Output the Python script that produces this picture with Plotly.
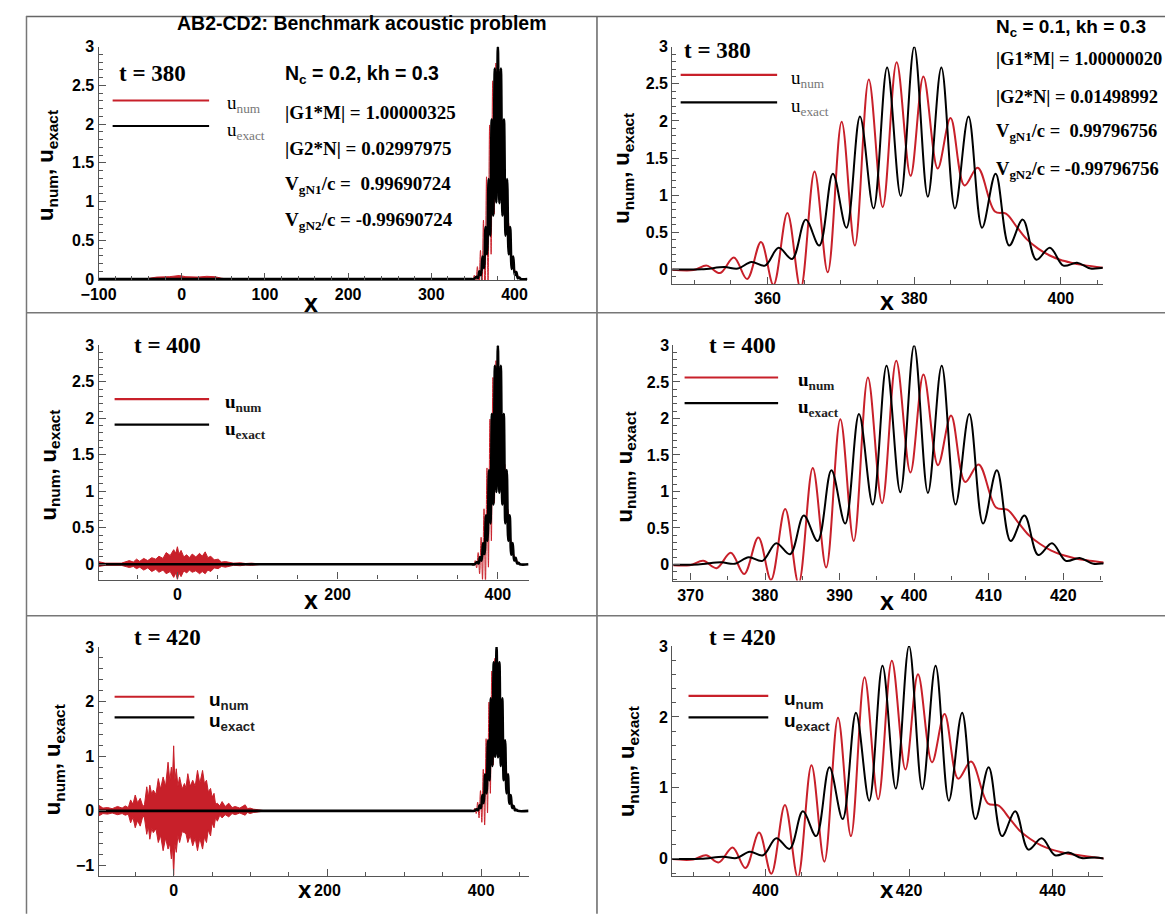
import plotly.graph_objects as go

W, H = 1173, 922          # window size
OFF = 8                   # default page margin of the html body
FW, FH = W - 2 * OFF, H - 2 * OFF

# ---------------- data ----------------
times = [380, 400, 420]          # packet centres (x = t, c = 1)

# exact solution, offset from packet centre
exact_dx = [-33.5, -29.0, -25.9, -24.05, -22.2, -20.35, -18.5, -16.65, -14.8, -12.95, -11.1,
            -9.25, -7.4, -5.55, -3.7, -1.85, 0.0, 1.85, 3.7, 5.55, 7.4, 9.25, 11.1, 12.95,
            14.8, 16.65, 18.5, 20.35, 22.2, 24.05, 25.9, 27.5]
exact_u = [0.0, 0.0, 0.03, 0.01, 0.10, 0.05, 0.29, 0.14, 0.67, 0.32, 1.29,
           0.56, 2.06, 0.82, 2.72, 0.99, 3.0, 0.98, 2.72, 0.82, 2.06, 0.56, 1.29, 0.32,
           0.67, 0.13, 0.29, 0.05, 0.09, 0.01, 0.02, 0.0]

# numerical solution, offset from packet centre
num_dx = [-33.5, -30.1, -28.3, -26.5, -24.6, -22.8, -20.9, -19.2, -17.3, -15.5, -13.6,
          -11.8, -9.9, -8.1, -6.2, -4.3, -2.4, -0.5, 1.25, 3.2, 4.95, 6.85, 8.65,
          11.0, 12.5, 14.0, 15.4, 16.9, 18.4, 19.9, 21.4, 22.9, 25.2, 27.5]
num_u = [0.0, -0.01, 0.05, -0.05, 0.16, -0.13, 0.37, -0.21, 0.76, -0.26, 1.32,
         -0.04, 1.99, 0.32, 2.56, 0.84, 2.79, 1.26, 2.60, 1.36, 2.04, 1.13, 1.37,
         0.78, 0.75, 0.57, 0.40, 0.28, 0.19, 0.13, 0.09, 0.06, 0.03, 0.0]

# spurious numerical wave near x = 0 (upper / lower envelope)
noise_x = {
    380: [-45, -40, -30, -15, -3, 5, 20, 30, 40, 48, 55],
    400: [-100, -98.5, -90, -79, -70, -60, -55, -51, -47, -42, -37, -32, -27, -23, -18,
          -14, -9, -4.6, -2, 0, 2, 4.6, 8, 11.6, 15, 18.5, 23, 27.7, 31, 34.7, 38, 41.6,
          46, 50.9, 55, 60, 70, 78.6, 85, 92.5, 106],
    420: [-100, -97, -92, -86, -80, -73, -67, -63, -59, -56, -53, -50, -47, -43.5, -40,
          -38, -35, -33, -31, -28.5, -26.5, -23, -20, -17, -13.7, -10.5, -7.3, -5, -3,
          -1.5, 0, 1.5, 3.4, 5.5, 7.7, 11, 14, 16, 18.4, 21.5, 24.8, 28, 31, 34, 37.6,
          40, 42.7, 45, 48, 50, 52.5, 54.5, 56.8, 60, 63, 67, 71.7, 76, 80, 86, 93, 96,
          99.4, 104, 110, 119],
}
noise_up = {
    380: [0.0, 0.01, 0.025, 0.03, 0.045, 0.03, 0.025, 0.035, 0.03, 0.01, 0.0],
    400: [0.03, 0.036, 0.015, 0.02, 0.015, 0.05, 0.03, 0.07, 0.04, 0.08, 0.05, 0.09, 0.07,
          0.11, 0.08, 0.16, 0.12, 0.20, 0.15, 0.24, 0.14, 0.19, 0.10, 0.13, 0.09, 0.14,
          0.10, 0.15, 0.11, 0.17, 0.09, 0.11, 0.06, 0.07, 0.03, 0.036, 0.015, 0.02, 0.01,
          0.015, 0.0],
    420: [0.09, 0.10, 0.05, 0.06, 0.04, 0.08, 0.05, 0.09, 0.06, 0.20, 0.12, 0.29, 0.15,
          0.23, 0.08, 0.11, 0.44, 0.25, 0.47, 0.30, 0.38, 0.30, 0.59, 0.40, 0.62, 0.45,
          0.89, 0.55, 0.80, 0.60, 1.19, 0.55, 0.77, 0.45, 0.62, 0.40, 0.50, 0.42, 0.68,
          0.45, 0.56, 0.45, 0.74, 0.50, 0.74, 0.50, 0.56, 0.35, 0.41, 0.25, 0.32, 0.12,
          0.14, 0.09, 0.17, 0.08, 0.14, 0.06, 0.08, 0.05, 0.11, 0.04, 0.05, 0.03, 0.02,
          0.0],
}
noise_lo = {
    380: [0.0, -0.01, -0.02, -0.025, -0.04, -0.03, -0.025, -0.03, -0.025, -0.01, 0.0],
    400: [-0.03, -0.03, -0.015, -0.02, -0.015, -0.045, -0.03, -0.06, -0.04, -0.08, -0.05,
          -0.10, -0.07, -0.11, -0.08, -0.13, -0.10, -0.18, -0.12, -0.21, -0.12, -0.17,
          -0.09, -0.12, -0.08, -0.11, -0.09, -0.13, -0.10, -0.13, -0.08, -0.10, -0.05,
          -0.06, -0.03, -0.04, -0.015, -0.02, -0.01, -0.015, 0.0],
    420: [-0.08, -0.09, -0.05, -0.06, -0.04, -0.07, -0.05, -0.08, -0.06, -0.22, -0.12,
          -0.31, -0.18, -0.28, -0.09, -0.13, -0.43, -0.28, -0.52, -0.32, -0.40, -0.33,
          -0.58, -0.45, -0.73, -0.50, -0.70, -0.60, -0.88, -0.65, -1.18, -0.60, -0.76,
          -0.45, -0.58, -0.38, -0.40, -0.42, -0.58, -0.45, -0.64, -0.50, -0.73, -0.50,
          -0.70, -0.48, -0.58, -0.35, -0.46, -0.22, -0.31, -0.12, -0.19, -0.08, -0.13,
          -0.07, -0.11, -0.05, -0.07, -0.04, -0.08, -0.03, -0.05, -0.03, -0.02, 0.0],
}

# axis ranges / ticks (left = full domain, right = zoom on packet)
left_xrange = {380: [-100, 415.6], 400: [-98.4, 438.3], 420: [-97.7, 461.6]}
left_yrange = {380: [-0.012, 3], 400: [-0.21, 3], 420: [-1.19, 3]}
left_xticks = {380: [-100, 0, 100, 200, 300, 400], 400: [0, 200, 400], 420: [0, 200, 400]}
right_xrange = {380: [347.0, 405.7], 400: [367.7, 425.4], 420: [387.0, 447.1]}
right_yrange = {380: [-0.2, 3], 400: [-0.22, 3], 420: [-0.24, 3]}
right_xticks = {380: [360, 380, 400], 400: [370, 380, 390, 400, 410, 420], 420: [400, 420, 440]}

stats_left = ["N<sub>c</sub> = 0.2, kh = 0.3", "|G1*M| = 1.00000325", "|G2*N| = 0.02997975",
              "V<sub>gN1</sub>/c =  0.99690724", "V<sub>gN2</sub>/c = -0.99690724"]
stats_right = ["N<sub>c</sub> = 0.1, kh = 0.3", "|G1*M| = 1.00000020", "|G2*N| = 0.01498992",
               "V<sub>gN1</sub>/c =  0.99796756", "V<sub>gN2</sub>/c = -0.99796756"]

RED = "#c8202a"
BLACK = "#000000"
AX = "#555555"

# panel boxes in window pixels: (x0, x1, ytop, ybottom)
boxes = {
    ("L", 380): (81.7, 517.4, 39.3, 276.7),
    ("L", 400): (81.7, 518.5, 343.3, 581.7),
    ("L", 420): (81.7, 518.5, 650.3, 883.3),
    ("R", 380): (664.5, 1101.7, 39.3, 281.0),
    ("R", 400): (665.6, 1102.5, 343.3, 582.7),
    ("R", 420): (664.5, 1102.5, 649.3, 883.3),
}

fig = go.Figure()
layout_axes = {}
annotations = []
shapes = []


def px(x):
    return (x - OFF) / FW


def py(y):
    return 1 - (y - OFF) / FH


def ann(text, x, y, size, family="Liberation Sans", bold=True, xanchor="center",
        yanchor="middle", angle=0, color="black"):
    annotations.append(dict(text=text, x=px(x), y=py(y), xref="paper", yref="paper",
                            showarrow=False, xanchor=xanchor, yanchor=yanchor,
                            textangle=angle,
                            font=dict(family=family, size=size, color=color,
                                      weight="bold" if bold else "normal")))


def hline(x0, x1, y, color, width):
    shapes.append(dict(type="line", xref="paper", yref="paper", x0=px(x0), x1=px(x1),
                       y0=py(y), y1=py(y), line=dict(color=color, width=width)))


def vline(x, y0, y1, color, width):
    shapes.append(dict(type="line", xref="paper", yref="paper", x0=px(x), x1=px(x),
                       y0=py(y0), y1=py(y1), line=dict(color=color, width=width)))


idx = 0
for side in ["L", "R"]:
    for t in times:
        idx += 1
        xa = "x" if idx == 1 else f"x{idx}"
        ya = "y" if idx == 1 else f"y{idx}"
        x0, x1, yt, yb = boxes[(side, t)]
        if side == "L":
            xr, yr, xt = left_xrange[t], left_yrange[t], left_xticks[t]
            xminor = 20 if t == 380 else 50
        else:
            xr, yr, xt = right_xrange[t], right_yrange[t], right_xticks[t]
            xminor = 5
        ydt = 1 if t == 420 else 0.5
        yminor = 0.2 if t == 420 else 0.1
        tickfont = dict(family="Liberation Sans", size=16, color="black", weight="bold")
        layout_axes["xaxis" if idx == 1 else f"xaxis{idx}"] = dict(
            domain=[px(x0), px(x1)], anchor=ya, range=xr, tickvals=xt,
            ticks="inside", ticklen=7, tickwidth=1, tickcolor=AX,
            minor=dict(dtick=xminor, tick0=0, ticks="inside", ticklen=4, tickcolor=AX),
            showline=True, linecolor=AX, linewidth=1.2, mirror=False,
            showgrid=False, zeroline=False, tickfont=tickfont)
        layout_axes["yaxis" if idx == 1 else f"yaxis{idx}"] = dict(
            domain=[py(yb), py(yt)], anchor=xa, range=yr, dtick=ydt, tick0=0,
            ticks="inside", ticklen=7, tickwidth=1, tickcolor=AX,
            minor=dict(dtick=yminor, tick0=0, ticks="inside", ticklen=4, tickcolor=AX),
            showline=True, linecolor=AX, linewidth=1.2, mirror=False,
            showgrid=False, zeroline=False, tickfont=tickfont)

        nx = [t + d for d in num_dx]
        ex = [t + d for d in exact_dx]
        if side == "L":
            # numerical packet (mostly hidden behind the exact one)
            fig.add_trace(go.Scatter(x=nx, y=num_u, mode="lines", xaxis=xa, yaxis=ya,
                                     line=dict(color=RED, width=1, shape="spline"),
                                     showlegend=False, hoverinfo="skip"))
            # spurious wave near x = 0
            fig.add_trace(go.Scatter(x=noise_x[t], y=noise_lo[t], mode="lines", xaxis=xa,
                                     yaxis=ya, line=dict(color=RED, width=1),
                                     showlegend=False, hoverinfo="skip"))
            fig.add_trace(go.Scatter(x=noise_x[t], y=noise_up[t], mode="lines", xaxis=xa,
                                     yaxis=ya, line=dict(color=RED, width=1),
                                     fill="tonexty", fillcolor=RED,
                                     showlegend=False, hoverinfo="skip"))
            fx = [xr[0]] + ex + [xr[1]]
            fy = [0.0] + exact_u + [0.0]
            fig.add_trace(go.Scatter(x=fx, y=fy, mode="lines", xaxis=xa, yaxis=ya,
                                     line=dict(color=BLACK, width=2.6, shape="spline"),
                                     showlegend=False, hoverinfo="skip"))
        else:
            fig.add_trace(go.Scatter(x=nx, y=num_u, mode="lines", xaxis=xa, yaxis=ya,
                                     line=dict(color=RED, width=2, shape="spline"),
                                     showlegend=False, hoverinfo="skip"))
            fig.add_trace(go.Scatter(x=ex, y=exact_u, mode="lines", xaxis=xa, yaxis=ya,
                                     line=dict(color=BLACK, width=2, shape="spline"),
                                     showlegend=False, hoverinfo="skip"))

# ---------------- text ----------------
ann("AB2-CD2: Benchmark acoustic problem", 349, 15, 19.5)

tpos = {("L", 380): (136, 67), ("R", 380): (710, 43), ("L", 400): (152, 343),
        ("R", 400): (736, 343), ("L", 420): (152, 641), ("R", 420): (736, 641)}
for (side, t), (x, y) in tpos.items():
    ann(f"t = {t}", x, y, 23, family="Liberation Serif")

ytitle = "u<sub>num</sub>, u<sub>exact</sub>"
for (x, y) in [(30, 160), (615, 163), (32, 465), (617, 467), (36, 765), (619, 767)]:
    ann(ytitle, x, y, 22, angle=-90)
for (x, y) in [(297, 300), (883, 298), (297, 603), (883, 604)]:
    ann("x", x, y, 25)
# bottom row: keep the title inside the drawable area
for x in [291, 883]:
    ann("x", x, FH + OFF - 1, 24, yanchor="bottom")

# stats
for i, (s, y) in enumerate(zip(stats_left, [68, 106, 143, 180, 217])):
    fam = "Liberation Sans" if i == 0 else "Liberation Serif"
    ann(s, 269, y, 19.5 if i == 0 else 19, family=fam, xanchor="left")
for i, (s, y) in enumerate(zip(stats_right, [20, 52, 90, 127, 165])):
    fam = "Liberation Sans" if i == 0 else "Liberation Serif"
    ann(s, 991, y, 19 if i == 0 else 18.5, family=fam, xanchor="left")

# legends
legends = [
    # x0, x1, yred, yblack, xlabel, family, bold, subcolor
    (96, 194, 94, 120, 210, "Liberation Serif", False, "#777777"),
    (673, 771, 68, 96, 783, "Liberation Serif", False, "#777777"),
    (98, 194, 398, 424, 208, "Liberation Serif", True, "#222222"),
    (677, 772, 376, 402, 790, "Liberation Serif", True, "#222222"),
    (98, 179, 701, 722, 192, "Liberation Sans", True, "#222222"),
    (681, 762, 700, 722, 776, "Liberation Sans", True, "#222222"),
]
for (lx0, lx1, yr_, yb_, xl, fam, bold, sc) in legends:
    hline(lx0, lx1, yr_, RED, 2.2)
    hline(lx0, lx1, yb_, BLACK, 2.2)
    ann(f"u<sub><span style='color:{sc}'>num</span></sub>", xl, yr_ + 4, 19,
        family=fam, bold=bold, xanchor="left")
    ann(f"u<sub><span style='color:{sc}'>exact</span></sub>", xl, yb_ + 5, 19,
        family=fam, bold=bold, xanchor="left")

# frame / separators
hline(OFF, W, OFF + 0.5, "#666666", 1.5)
vline(OFF + 0.5, OFF, H, "#777777", 1.5)
vline(588, OFF, H, "#666666", 1.5)
hline(OFF, W, 310, "#777777", 1.5)
hline(OFF, W, 618.5, "#777777", 1.5)

fig.update_layout(
    width=FW, height=FH, margin=dict(l=0, r=0, t=0, b=0),
    paper_bgcolor="white", plot_bgcolor="white",
    annotations=annotations, shapes=shapes, showlegend=False,
    **layout_axes,
)

fig.write_html("out.html", config={"displayModeBar": False})
